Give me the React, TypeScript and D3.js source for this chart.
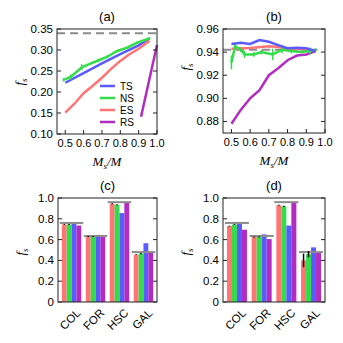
import React from "react";
import * as d3 from "d3";

const RED = "#ff7474";
const GREEN = "#33dd4a";
const BLUE = "#5a5aff";
const PURPLE = "#b22cc2";
const GRAY = "#8c8c8c";

// panel (a)
const tsAx = [0.5, 0.6, 0.7, 0.8, 0.9, 0.96];
const tsAy = [0.222, 0.245, 0.268, 0.29, 0.311, 0.328];
const nsAx = [0.49, 0.53, 0.59, 0.64, 0.68, 0.73, 0.78, 0.84, 0.89, 0.96];
const nsAy = [0.229, 0.236, 0.259, 0.268, 0.275, 0.284, 0.297, 0.306, 0.317, 0.328];
const nsAerr = [0.004, 0.006, 0.007, 0.003, 0.004, 0.004, 0.003, 0.002, 0.003, 0.002];
const esAx = [0.5, 0.55, 0.6, 0.65, 0.7, 0.75, 0.8, 0.85, 0.9, 0.96];
const esAy = [0.151, 0.172, 0.197, 0.215, 0.234, 0.255, 0.274, 0.29, 0.303, 0.322];
const rsAx = [0.913, 1.0];
const rsAy = [0.141, 0.312];
const refA = 0.34;
const yTicksA = [0.1, 0.15, 0.2, 0.25, 0.3, 0.35];

// panel (b)
const tsBx = [0.5, 0.55, 0.6, 0.65, 0.7, 0.75, 0.8, 0.85, 0.9, 0.95];
const tsBy = [0.947, 0.948, 0.947, 0.9505, 0.949, 0.946, 0.9434, 0.9437, 0.9434, 0.941];
const nsBx = [0.5, 0.52, 0.55, 0.57, 0.62, 0.66, 0.72, 0.77, 0.82, 0.87, 0.92, 0.95];
const nsBy = [0.931, 0.945, 0.942, 0.938, 0.938, 0.94, 0.938, 0.942, 0.941, 0.94, 0.941, 0.942];
const nsBerr = [0.006, 0.002, 0.002, 0.003, 0.002, 0.002, 0.005, 0.003, 0.002, 0.001, 0.003, 0.001];
const esBx = [0.5, 0.6, 0.7, 0.75, 0.8, 0.9, 0.95];
const esBy = [0.943, 0.9435, 0.945, 0.9445, 0.943, 0.9423, 0.941];
const rsBx = [0.5, 0.55, 0.6, 0.65, 0.7, 0.75, 0.8, 0.85, 0.9, 0.95];
const rsBy = [0.878, 0.89, 0.9, 0.907, 0.92, 0.926, 0.933, 0.937, 0.938, 0.941];
const refB = 0.942;
const yTicksB = [0.88, 0.9, 0.92, 0.94, 0.96];

const xTicks = [0.5, 0.6, 0.7, 0.8, 0.9, 1.0];

// panels (c), (d)
const categories = ["COL", "FOR", "HSC", "GAL"];
const barColors = [RED, GREEN, BLUE, PURPLE];
const refC = [0.76, 0.635, 0.96, 0.48];
const esC = [0.745, 0.63, 0.945, 0.455];
const nsC = [0.745, 0.63, 0.935, 0.465];
const tsC = [0.75, 0.645, 0.855, 0.565];
const rsC = [0.735, 0.63, 0.955, 0.48];
const errC = [[0.004, 0.004, 0, 0], [0, 0, 0, 0], [0.004, 0.005, 0, 0], [0.004, 0.005, 0, 0]];
const esD = [0.73, 0.625, 0.93, 0.4];
const nsD = [0.745, 0.625, 0.92, 0.46];
const tsD = [0.755, 0.65, 0.735, 0.525];
const rsD = [0.695, 0.605, 0.955, 0.475];
const errD = [[0.004, 0.005, 0, 0], [0, 0, 0, 0], [0.004, 0.006, 0, 0], [0.065, 0.03, 0, 0]];
const yTicksBar = [0, 0.2, 0.4, 0.6, 0.8, 1.0];

const FONT = "'Liberation Sans', Arial, sans-serif";
const SERIF = "'Liberation Serif', 'Times New Roman', serif";

type Series = { x: number[]; y: number[]; color: string; err?: number[]; name: string };

// rotation written as a matrix
function rot(deg: number, tx: number, ty: number) {
  const a = (deg * Math.PI) / 180;
  const c = Math.cos(a), s = Math.sin(a);
  return `matrix(${c.toFixed(4)},${s.toFixed(4)},${(-s).toFixed(4)},${c.toFixed(4)},${tx},${ty})`;
}

function FsLabel({ x, y }: { x: number; y: number }) {
  return (
    <g transform={rot(-90, x, y)}>
      <text textAnchor="middle" fontFamily={SERIF} fontStyle="italic" fontSize={13}>
        f<tspan fontSize={9} dy={3}>s</tspan>
      </text>
    </g>
  );
}

function Frame({ x0, x1, y0, y1, y, yTicks, fmt, x, xTicksV }: any) {
  return (
    <g>
      {yTicks.map((t: number) => (
        <g key={"y" + t}>
          <line x1={x0} x2={x0 + 4} y1={y(t)} y2={y(t)} stroke="#222" />
          <line x1={x1} x2={x1 - 4} y1={y(t)} y2={y(t)} stroke="#222" />
          <text x={x0 - 4} y={y(t)} dy="0.35em" textAnchor="end" fontSize={11.5} fontFamily={FONT}>{fmt(t)}</text>
        </g>
      ))}
      {x && xTicksV.map((t: number) => (
        <g key={"x" + t}>
          <line x1={x(t)} x2={x(t)} y1={y1} y2={y1 - 4} stroke="#222" />
          <text x={x(t)} y={y1 + 13} textAnchor="middle" fontSize={11} fontFamily={FONT}>{d3.format(".1f")(t)}</text>
        </g>
      ))}
      <rect x={x0} y={y0} width={x1 - x0} height={y1 - y0} fill="none" stroke="#222" strokeWidth={1} />
    </g>
  );
}

function LinePanel({ x0, x1, y0, y1, yDomain, yTicks, series, refY, refX1, title, legend, fsY }: any) {
  const x = d3.scaleLinear().domain([0.455, 1.0]).range([x0, x1]);
  const y = d3.scaleLinear().domain(yDomain).range([y1, y0]);
  const line = d3.line<[number, number]>().x((d) => x(d[0])).y((d) => y(d[1]));
  return (
    <g>
      <text x={(x0 + x1) / 2} y={y0 - 8} textAnchor="middle" fontSize={13} fontFamily={FONT}>{title}</text>
      <line x1={x0} x2={refX1 ? x(refX1) : x1} y1={y(refY)} y2={y(refY)} stroke={GRAY} strokeWidth={2} strokeDasharray="8,5" />
      {series.map((s: Series) => (
        <g key={s.name}>
          <path d={line(s.x.map((v, i) => [v, s.y[i]]) as [number, number][]) || ""} fill="none" stroke={s.color} strokeWidth={2.5} />
          {s.err && s.x.map((v, i) => (
            <line key={i} x1={x(v)} x2={x(v)} y1={y(s.y[i] - s.err![i])} y2={y(s.y[i] + s.err![i])} stroke={s.color} strokeWidth={1.5} />
          ))}
        </g>
      ))}
      <Frame x0={x0} x1={x1} y0={y0} y1={y1} y={y} yTicks={yTicks} fmt={d3.format(".2f")} x={x} xTicksV={xTicks} />
      {legend && legend.map((s: Series, i: number) => (
        <g key={s.name}>
          <line x1={100} x2={115} y1={86 + i * 12} y2={86 + i * 12} stroke={s.color} strokeWidth={2.5} />
          <text x={120} y={86 + i * 12} dy="0.35em" fontSize={10} fontFamily={FONT}>{s.name}</text>
        </g>
      ))}
      <text x={(x0 + x1) / 2} y={y1 + 32} textAnchor="middle" fontFamily={SERIF} fontStyle="italic" fontSize={13}>
        M<tspan fontSize={9} dy={3}>s</tspan><tspan dy={-3}>/M</tspan>
      </text>
      <FsLabel x={x0 - 33} y={fsY} />
    </g>
  );
}

function BarPanel({ x0, x1, y0, y1, values, refs, errs, title }: any) {
  const x = d3.scaleBand().domain(categories).range([x0, x1]).paddingInner(0.19).paddingOuter(0.16);
  const inner = d3.scaleBand<number>().domain([0, 1, 2, 3]).range([0, x.bandwidth()]);
  const y = d3.scaleLinear().domain([0, 1]).range([y1, y0]);
  return (
    <g>
      <text x={(x0 + x1) / 2} y={y0 - 8} textAnchor="middle" fontSize={13} fontFamily={FONT}>{title}</text>
      {categories.map((c, ci) => (
        <g key={c}>
          {values.map((vals: number[], si: number) => (
            <rect key={si} x={x(c)! + inner(si)!} y={y(vals[ci])} width={inner.bandwidth()}
              height={y(0) - y(vals[ci])} fill={barColors[si]} />
          ))}
          <line x1={x(c)! - 2} x2={x(c)! + x.bandwidth() + 2} y1={y(refs[ci])} y2={y(refs[ci])} stroke={GRAY} strokeWidth={2} />
          {[0, 1].map((si) => (
            <line key={si} x1={x(c)! + inner(si)! + inner.bandwidth() / 2} x2={x(c)! + inner(si)! + inner.bandwidth() / 2}
              y1={y(values[si][ci] - Math.max(errs[ci][si], 0.004))} y2={y(values[si][ci] + Math.max(errs[ci][si], 0.004))}
              stroke="#000" strokeWidth={1.5} />
          ))}
          <g transform={rot(-45, x(c)! + x.bandwidth() / 2 + 4, y1 + 6)}>
            <text textAnchor="end" dy="0.7em" fontSize={11.5} fontFamily={FONT}>{c}</text>
          </g>
        </g>
      ))}
      <Frame x0={x0} x1={x1} y0={y0} y1={y1} y={y} yTicks={yTicksBar} fmt={(t: number) => (t === 0 ? "0" : t.toFixed(1))} />
      <FsLabel x={x0 - 33} y={252} />
    </g>
  );
}

export default function App() {
  const seriesA: Series[] = [
    { name: "TS", x: tsAx, y: tsAy, color: BLUE },
    { name: "NS", x: nsAx, y: nsAy, color: GREEN, err: nsAerr },
    { name: "ES", x: esAx, y: esAy, color: RED },
    { name: "RS", x: rsAx, y: rsAy, color: PURPLE },
  ];
  const seriesB: Series[] = [
    { name: "ES", x: esBx, y: esBy, color: RED },
    { name: "RS", x: rsBx, y: rsBy, color: PURPLE },
    { name: "NS", x: nsBx, y: nsBy, color: GREEN, err: nsBerr },
    { name: "TS", x: tsBx, y: tsBy, color: BLUE },
  ];
  return (
    <svg width={343} height={343} style={{ position: "absolute", left: 0, top: 0, background: "#fff" }}>
      <LinePanel x0={57} x1={157} y0={29} y1={134} yDomain={[0.1, 0.35]} yTicks={yTicksA}
        series={seriesA} refY={refA} title="(a)" legend={seriesA} fsY={82} />
      <LinePanel x0={223} x1={325} y0={29} y1={133} yDomain={[0.87, 0.96]} yTicks={yTicksB}
        series={seriesB} refY={refB} refX1={0.96} title="(b)" fsY={67} />
      <BarPanel x0={58} x1={157} y0={198} y1={302} values={[esC, nsC, tsC, rsC]} refs={refC} errs={errC} title="(c)" />
      <BarPanel x0={223} x1={325} y0={198} y1={302} values={[esD, nsD, tsD, rsD]} refs={refC} errs={errD} title="(d)" />
    </svg>
  );
}
